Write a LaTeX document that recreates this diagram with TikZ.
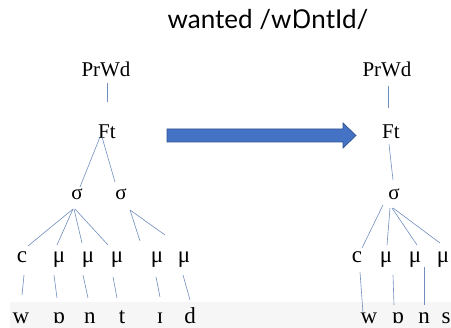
\documentclass[tikz,border=0pt]{standalone}
\usepackage{fontspec}
\setmainfont{Liberation Serif}
\newfontfamily\titlefont{Lato}
\newfontfamily\ipafont{Noto Sans}
\definecolor{branch}{RGB}{112,142,190}
\definecolor{arrowfill}{RGB}{68,114,196}
\definecolor{arrowedge}{RGB}{47,82,143}
\definecolor{band}{RGB}{246,246,246}
\begin{document}
\begin{tikzpicture}[x=1pt,y=-1pt,
  lbl/.style={inner sep=0pt,anchor=base,font=\fontsize{21}{24}\selectfont},
  seg/.style={lbl,font=\fontsize{23}{26}\selectfont},
  link/.style={draw=branch,line width=0.6pt}]
\useasboundingbox (0,0) rectangle (451,328);
% light strip behind the segment row
\fill[band] (10,302) rectangle (451,328);

% title
\node[inner sep=0pt,anchor=base,font=\titlefont\fontsize{26}{30}\selectfont] (title) at (268,29)
  {wanted /w{\ipafont Ɒ}ntId/};

% ---------- left tree ----------
\node[lbl] (LP) at (106,77) {PrWd};
\node[lbl] (LF) at (107,139) {Ft};
\node[lbl] (Ls1) at (77,200) {σ};
\node[lbl] (Ls2) at (121,200) {σ};
\node[seg] (Lc)  at (22,263) {c};
\node[seg] (Lm1) at (59,263) {μ};
\node[seg] (Lm2) at (88,263) {μ};
\node[seg] (Lm3) at (117,263) {μ};
\node[seg] (Lm4) at (157,263) {μ};
\node[seg] (Lm5) at (184,263) {μ};
\node[seg] (Lw) at (21,324) {w};
\node[seg] (Lo) at (59,324) {ɒ};
\node[seg] (Ln) at (90,324) {n};
\node[seg] (Lt) at (122,324) {t};
\node[seg] (Li) at (160,324) {ɪ};
\node[seg] (Ld) at (190,324) {d};

\draw[link] ([shift={(1,6)}]LP.base) -- ([shift={(0,-37)}]LF.base);
\draw[link] ([shift={(-7,-2)}]LF.base) -- ([shift={(3,-13)}]Ls1.base);
\draw[link] ([shift={(-5,-2)}]LF.base) -- ([shift={(-6,-18)}]Ls2.base);
\draw[link] ([shift={(-4,9)}]Ls1.base) -- ([shift={(6,-17)}]Lc.base);
\draw[link] ([shift={(-4,9)}]Ls1.base) -- ([shift={(-2,-18)}]Lm1.base);
\draw[link] ([shift={(-3,9)}]Ls1.base) -- ([shift={(-6,-20)}]Lm2.base);
\draw[link] ([shift={(-2,9)}]Ls1.base) -- ([shift={(-9,-18)}]Lm3.base);
\draw[link] ([shift={(9,10)}]Ls2.base) -- ([shift={(-17,-22)}]Lm4.base);
\draw[link] ([shift={(9,10)}]Ls2.base) -- ([shift={(-19,-28)}]Lm5.base);
\draw[link] ([shift={(2,12)}]Lc.base) -- ([shift={(1,-29)}]Lw.base);
\draw[link] ([shift={(-5,12)}]Lm1.base) -- ([shift={(-2,-26)}]Lo.base);
\draw[link] ([shift={(-5,12)}]Lm2.base) -- ([shift={(-2,-26)}]Ln.base);
\draw[link] ([shift={(-4,14)}]Lm3.base) -- ([shift={(-5,-26)}]Lt.base);
\draw[link] ([shift={(-1,14)}]Lm4.base) -- ([shift={(0,-27)}]Li.base);
\draw[link] ([shift={(-1,12)}]Lm5.base) -- ([shift={(0,-24)}]Ld.base);

% ---------- block arrow ----------
\node[inner sep=0pt] (arrowTail) at (167,135.5) {};
\node[inner sep=0pt] (arrowTip) at (356,135.5) {};
\filldraw[fill=arrowfill,draw=arrowedge,line width=0.7pt]
  ([shift={(0,-6.5)}]arrowTail.center) -- ++(176,0) -- ++(0,-6) -- (arrowTip.center)
  -- ++(-13,12.5) -- ++(0,-6) -- ++(-176,0) -- cycle;

% ---------- right tree ----------
\node[lbl] (RP) at (387,77) {PrWd};
\node[lbl] (RF) at (391,139) {Ft};
\node[lbl] (Rs) at (394,200) {σ};
\node[seg] (Rc)  at (357,263) {c};
\node[seg] (Rm1) at (386,263) {μ};
\node[seg] (Rm2) at (415,263) {μ};
\node[seg] (Rm3) at (443,263) {μ};
\node[seg] (Rw) at (369,324) {w};
\node[seg] (Ro) at (398,324) {ɒ};
\node[seg] (Rn) at (424,324) {n};
\node[seg] (Rsg) at (446,324) {s};

\draw[link] ([shift={(1,9)}]RP.base) -- ([shift={(-3,-31)}]RF.base);
\draw[link] ([shift={(-2,5)}]RF.base) -- ([shift={(-1,-20)}]Rs.base);
\draw[link] ([shift={(-11,5)}]Rs.base) -- ([shift={(5,-15)}]Rc.base);
\draw[link] ([shift={(-4,8)}]Rs.base) -- ([shift={(1,-18)}]Rm1.base);
\draw[link] ([shift={(-2,8)}]Rs.base) -- ([shift={(2,-18)}]Rm2.base);
\draw[link] ([shift={(-1,8)}]Rs.base) -- ([shift={(-3,-20)}]Rm3.base);
\draw[link] ([shift={(3,9)}]Rc.base) -- ([shift={(-6,-11)}]Rw.base);
\draw[link] ([shift={(7,12)}]Rm1.base) -- ([shift={(-4,-19)}]Ro.base);
\draw[link] ([shift={(9,4)}]Rm2.base) -- ([shift={(0,-19)}]Rn.base);
\end{tikzpicture}
\end{document}
